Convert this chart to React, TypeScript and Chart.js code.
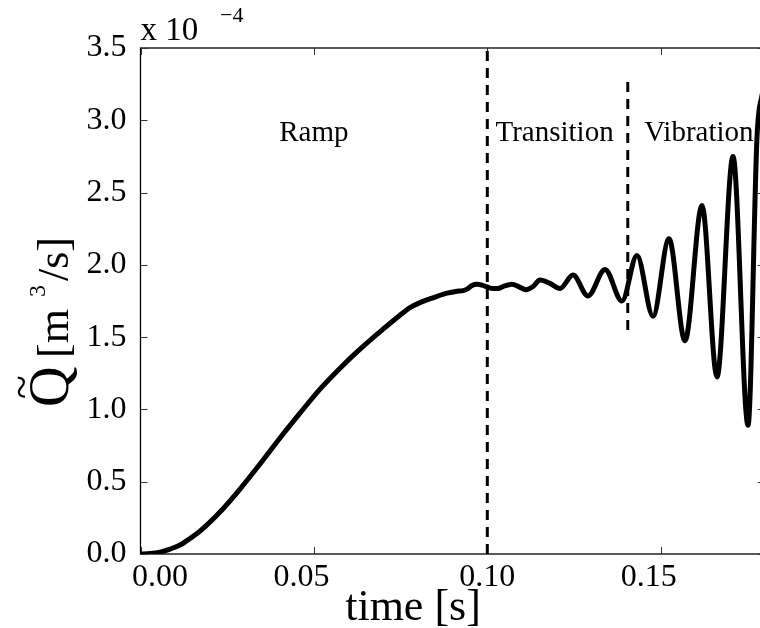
import { useEffect, useRef } from 'react';
import { Chart, registerables } from 'chart.js';

Chart.register(...registerables);

// time [s]
const timeS = [
  0, 0.00274, 0.00562, 0.00851, 0.01139, 0.01427, 0.01716, 0.02292, 0.02869, 0.03446,
  0.04022, 0.04599, 0.05176, 0.05753, 0.06329, 0.06992, 0.07482, 0.07771, 0.08059, 0.08492,
  0.08838, 0.09126, 0.09299, 0.09415, 0.09559, 0.09703, 0.09847, 0.09991, 0.10164, 0.10308,
  0.10452, 0.10712, 0.10914, 0.11116, 0.11318, 0.1152, 0.11808, 0.12096, 0.12471, 0.12903,
  0.13394, 0.13884, 0.14316, 0.14778, 0.15239, 0.157, 0.16191, 0.16623, 0.17085, 0.17518,
  0.1778, 0.1794,
];
// flow rate [x 1e-4 m^3/s]
const flowE4 = [
  0, 0.003, 0.013, 0.034, 0.062, 0.107, 0.158, 0.29, 0.449, 0.622,
  0.802, 0.974, 1.14, 1.285, 1.417, 1.555, 1.652, 1.704, 1.739, 1.777,
  1.804, 1.818, 1.822, 1.832, 1.858, 1.866, 1.86, 1.848, 1.836, 1.836,
  1.85, 1.866, 1.848, 1.828, 1.85, 1.895, 1.872, 1.836, 1.93, 1.785,
  1.968, 1.75, 2.065, 1.645, 2.18, 1.475, 2.41, 1.225, 2.75, 0.89,
  2.9, 3.2,
];

const xMax = 0.17863;
const xTickValues = [0, 0.05, 0.1, 0.15];
const xTickLabels = ['0.00', '0.05', '0.10', '0.15'];
const xTickLabelShift = [19.5, -12.5, 0, -12];
const yTickValues = [0, 0.5, 1, 1.5, 2, 2.5, 3, 3.5];

const boundaryTimes = [0.1, 0.1405];
const boundaryLow = [0, 1.55];
const boundaryHigh = [3.5, 3.28];

const phaseNames = ['Ramp', 'Transition', 'Vibration'];
const phaseTimes = [0.05, 0.1194, 0.161];
const phaseLevel = 2.855;

const FONT = "'Liberation Serif', 'Times New Roman', serif";

const decorPlugin = {
  id: 'decor',
  beforeDatasetsDraw(chart: any) {
    const { ctx, chartArea } = chart;
    const { left, top, bottom } = chartArea;
    // the right axis of the original figure lies just past the cropped edge
    const right = chartArea.right + 4.7;
    const xs = chart.scales.x;
    const ys = chart.scales.y;
    ctx.save();
    ctx.strokeStyle = '#000';
    ctx.lineWidth = 1.3;
    ctx.strokeRect(left, top, right - left, bottom - top);
    ctx.lineWidth = 1;
    ctx.strokeStyle = '#333';
    const tl = 7;
    ctx.beginPath();
    xTickValues.forEach((v) => {
      const px = Math.round(xs.getPixelForValue(v)) + 0.5;
      ctx.moveTo(px, bottom);
      ctx.lineTo(px, bottom - tl);
      ctx.moveTo(px, top);
      ctx.lineTo(px, top + tl);
    });
    yTickValues.forEach((v) => {
      const py = Math.round(ys.getPixelForValue(v)) + 0.5;
      ctx.moveTo(left, py);
      ctx.lineTo(left + tl, py);
      ctx.moveTo(right, py);
      ctx.lineTo(right - tl, py);
    });
    ctx.stroke();
    ctx.restore();
  },
  afterDraw(chart: any) {
    const { ctx, chartArea } = chart;
    const xs = chart.scales.x;
    const ys = chart.scales.y;
    ctx.save();
    ctx.fillStyle = '#000';
    // x tick labels
    ctx.font = `32px ${FONT}`;
    ctx.textAlign = 'center';
    ctx.textBaseline = 'alphabetic';
    xTickValues.forEach((v, i) => {
      ctx.fillText(xTickLabels[i], xs.getPixelForValue(v) + xTickLabelShift[i], chartArea.bottom + 32);
    });
    // phase labels
    ctx.font = `29px ${FONT}`;
    phaseNames.forEach((n, i) => {
      ctx.fillText(n, xs.getPixelForValue(phaseTimes[i]), ys.getPixelForValue(phaseLevel));
    });
    // x title
    ctx.font = `44px ${FONT}`;
    ctx.fillText('time [s]', 413, 620);
    // exponent
    ctx.textAlign = 'left';
    ctx.font = `33px ${FONT}`;
    ctx.fillText('x 10', chartArea.left, 40);
    ctx.font = `22px ${FONT}`;
    ctx.fillText('\u22124', 220, 22);
    // y title
    ctx.translate(68, 407);
    ctx.rotate(-Math.PI / 2);
    ctx.font = `56px ${FONT}`;
    ctx.fillText('Q', 0, 0);
    ctx.font = `44px ${FONT}`;
    ctx.textAlign = 'center';
    ctx.fillText('~', 20, -32);
    ctx.textAlign = 'left';
    ctx.fillText('[m', 49, 0);
    ctx.fillText('/s]', 126, 0);
    ctx.font = `24px ${FONT}`;
    ctx.fillText('3', 110, -23);
    ctx.restore();
  },
};

export default function App() {
  const ref = useRef<HTMLCanvasElement>(null);
  useEffect(() => {
    if (!ref.current) return;
    const chart = new Chart(ref.current, {
      type: 'line',
      data: {
        datasets: [
          {
            data: timeS.map((t, i) => ({ x: t, y: flowE4[i] })),
            borderColor: '#000',
            borderWidth: 5,
            pointRadius: 0,
            cubicInterpolationMode: 'monotone',
            fill: false,
          },
          ...boundaryTimes.map((t, i) => ({
            data: [
              { x: t, y: boundaryLow[i] },
              { x: t, y: boundaryHigh[i] },
            ],
            borderColor: '#000',
            borderWidth: 3,
            borderDash: [10, 7],
            pointRadius: 0,
            fill: false,
          })),
        ],
      },
      options: {
        animation: false,
        responsive: false,
        maintainAspectRatio: false,
        devicePixelRatio: 1,
        layout: { padding: { top: 48, right: 0, bottom: 0, left: 0 } },
        plugins: { legend: { display: false }, tooltip: { enabled: false }, title: { display: false } },
        scales: {
          x: {
            type: 'linear',
            min: 0,
            max: xMax,
            grid: { display: false, drawTicks: false },
            border: { display: false },
            ticks: { display: false },
            afterFit: (s: any) => {
              s.height = 74;
            },
          },
          y: {
            type: 'linear',
            min: 0,
            max: 3.5,
            grid: { display: false, drawTicks: false },
            border: { display: false },
            ticks: {
              stepSize: 0.5,
              color: '#000',
              padding: 14,
              font: { family: FONT, size: 32 },
              callback: (v: any) => Number(v).toFixed(1),
            },
            afterFit: (s: any) => {
              s.width = 140.5;
            },
          },
        },
      } as any,
      plugins: [decorPlugin],
    });
    return () => chart.destroy();
  }, []);
  return (
    <div style={{ position: 'absolute', left: 0, top: 0, width: 760, height: 628, background: '#fff' }}>
      <canvas ref={ref} width={760} height={628} style={{ display: 'block' }} />
    </div>
  );
}
